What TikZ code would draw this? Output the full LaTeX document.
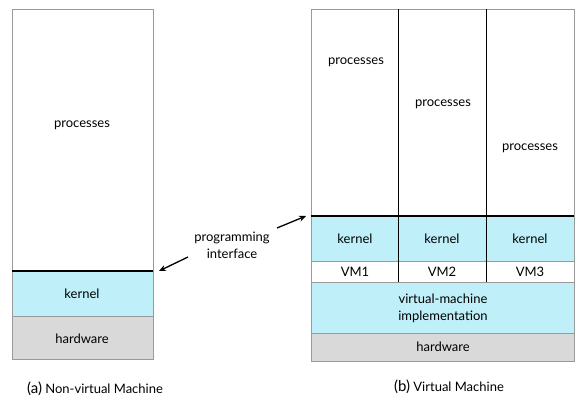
\documentclass[tikz,border=0pt]{standalone}
\usepackage{fontspec}
\setmainfont{Lato}
\usetikzlibrary{arrows.meta}
\definecolor{kern}{HTML}{BFEFF9}
\definecolor{hw}{HTML}{D9D9D9}
\definecolor{edge}{HTML}{9A9A9A}
\begin{document}
\begin{tikzpicture}[x=1pt,y=-1pt,
  lbl/.style={font=\fontsize{13}{15}\selectfont, inner sep=1pt, align=center},
  captext/.style={font=\fontsize{13}{15}\selectfont, inner sep=1pt},
  cell/.style={draw=edge, line width=0.8pt},
  sep/.style={draw=black, line width=0.8pt},
  iface/.style={line width=2pt},
  arr/.style={-{Stealth[length=7pt,width=6pt]}, line width=1.3pt}]
\useasboundingbox (0,0) rectangle (586,412);
% ---- (a) non-virtual machine ----
\path[cell, fill=white] (12,9) rectangle (153,271);
\path[cell, fill=kern] (12,271) rectangle (153,316);
\path[cell, fill=hw] (12,316) rectangle (153,359);
\draw[iface] (12,271) coordinate (la) -- (153,271) coordinate (lb);
\node[lbl] (pa) at (82,125) {processes};
\node[lbl] (ka) at (82,294) {kernel};
\node[lbl] (ha) at (82,339) {hardware};
\node[captext] (capa) at (95,389) {{\fontsize{15}{15}\selectfont(a)} Non-virtual Machine};
% ---- (b) virtual machine ----
\path[cell, fill=white] (311,9) rectangle (574,216);
\path[cell, fill=kern] (311,216) rectangle (574,261);
\path[cell, fill=white] (311,261) rectangle (574,282);
\path[cell, fill=kern] (311,282) rectangle (574,333);
\path[cell, fill=hw] (311,333) rectangle (574,361);
\draw[sep] (398,9) -- (398,282);
\draw[sep] (486,9) -- (486,282);
\draw[iface] (311,216) coordinate (ra) -- (574,216) coordinate (rb);
\node[lbl] (p1) at (356,62) {processes};
\node[lbl] (p2) at (443,104) {processes};
\node[lbl] (p3) at (530,148) {processes};
\node[lbl] (k1) at (355,239) {kernel};
\node[lbl] (k2) at (442,239) {kernel};
\node[lbl] (k3) at (530,239) {kernel};
\node[lbl] (v1) at (355,272) {VM1};
\node[lbl] (v2) at (442,272) {VM2};
\node[lbl] (v3) at (530,272) {VM3};
\node[lbl, font=\fontsize{13}{17}\selectfont] (vmi) at (443,308) {virtual-machine\\implementation};
\node[lbl] (hb) at (443,347) {hardware};
\node[captext] (capb) at (449,387) {{\fontsize{15}{15}\selectfont(b)} Virtual Machine};
% ---- programming interface ----
\node[lbl, font=\fontsize{13}{17}\selectfont] (pi) at (232,245) {programming\\interface};
\coordinate (lt) at (188,257);
\coordinate (lh) at (159,271);
\coordinate (rt) at (277,228);
\coordinate (rh) at (306,216);
\draw[arr] (lt) -- (lh);
\draw[arr] (rt) -- (rh);
\end{tikzpicture}
\end{document}
